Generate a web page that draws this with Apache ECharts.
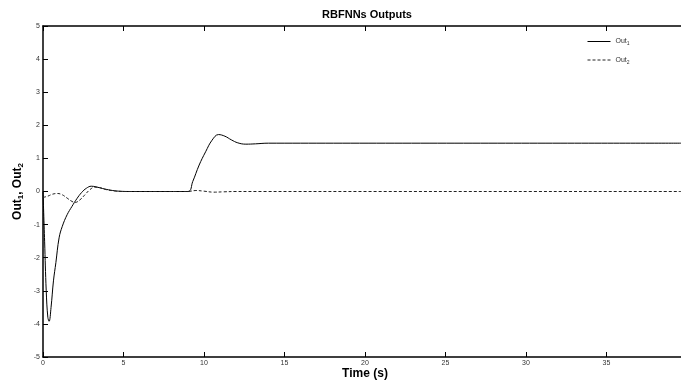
<!DOCTYPE html>
<html><head><meta charset="utf-8">
<script src="https://cdn.jsdelivr.net/npm/echarts@6/dist/echarts.min.js"></script>
<style>html,body{margin:0;padding:0;background:#fff}#c{width:681px;height:383px}</style>
</head><body><div id="c"></div>
<script>
const out1T = [0, 0.1, 0.2, 0.3, 0.38, 0.5, 0.65, 0.8, 1.0, 1.2, 1.5, 1.8, 2.1, 2.4, 2.7, 3.0, 3.3, 3.7, 4.2, 4.7, 5.5, 9.0, 9.3, 9.7, 10.1, 10.5, 10.9, 11.3, 11.7, 12.1, 12.6, 13.2, 14, 39.7];
const out1V = [0, -1.5, -3.0, -3.8, -3.92, -3.5, -2.7, -2.15, -1.4, -1.05, -0.7, -0.45, -0.22, -0.03, 0.1, 0.16, 0.14, 0.09, 0.04, 0.01, 0, 0, 0.3, 0.8, 1.2, 1.55, 1.72, 1.67, 1.56, 1.47, 1.43, 1.44, 1.46, 1.46];
const out2T = [0, 0.3, 0.6, 0.9, 1.2, 1.5, 1.8, 2.0, 2.3, 2.6, 2.9, 3.2, 3.5, 3.9, 4.4, 5, 9.0, 9.5, 10.0, 10.6, 11.2, 12, 39.7];
const out2V = [-0.18, -0.14, -0.08, -0.06, -0.1, -0.2, -0.3, -0.33, -0.25, -0.1, 0.05, 0.13, 0.12, 0.06, 0.02, 0, 0, 0.03, 0.01, -0.02, -0.01, 0, 0];
const xTicks = [0, 5, 10, 15, 20, 25, 30, 35];
const yTicks = [-5, -4, -3, -2, -1, 0, 1, 2, 3, 4, 5];
const titleText = 'RBFNNs Outputs';
const xName = 'Time (s)';

const chart = echarts.init(document.getElementById('c'));
const font = 'Liberation Sans, Arial, sans-serif';
const zip = (t, v) => t.map((x, i) => [x, v[i]]);
const rich = {
  a: {fontFamily: font, fontSize: 7, color: '#333'},
  s: {fontFamily: font, fontSize: 5, color: '#333', padding: [5, 0, 0, 0]}
};
chart.setOption({
  animation: false,
  title: {text: titleText, left: 362, top: 4, textAlign: 'center',
    textStyle: {fontFamily: font, fontSize: 11, fontWeight: 'bold', color: '#000'}},
  grid: {left: 43, top: 26, width: 644, height: 331, outerBoundsMode: 'none', containLabel: false},
  legend: {
    left: 582, top: 33, orient: 'vertical', itemGap: 10, itemWidth: 23, itemHeight: 8,
    data: ['Out1', 'Out2'],
    itemStyle: {opacity: 0},
    lineStyle: {width: 1},
    formatter: n => '{a|Out}{s|' + n.slice(3) + '}',
    textStyle: {rich: rich}
  },
  xAxis: [{
    type: 'value', min: 0, max: 40, interval: 5,
    name: xName, nameLocation: 'middle', nameGap: 11, nameMoveOverlap: false,
    nameTextStyle: {fontFamily: font, fontSize: 12, fontWeight: 'bold', color: '#000'},
    axisLine: {show: true, onZero: false, lineStyle: {color: '#000', width: 1.5}},
    axisTick: {show: true, inside: true, length: 5, lineStyle: {color: '#000'}},
    axisLabel: {fontFamily: font, fontSize: 7, color: '#333', margin: 3,
      formatter: v => xTicks.includes(v) ? String(v) : ''},
    splitLine: {show: false}
  }, {
    type: 'value', position: 'top', min: 0, max: 40, interval: 5,
    axisLine: {show: true, onZero: false, lineStyle: {color: '#000', width: 1.5}},
    axisTick: {show: true, inside: true, length: 5, lineStyle: {color: '#000'}},
    axisLabel: {show: false}, splitLine: {show: false}
  }],
  yAxis: {
    type: 'value', min: -5, max: 5, interval: 1,
    name: '{b|Out}{bs|1}{b|, Out}{bs|2}', nameLocation: 'middle', nameGap: 18, nameRotate: 90, nameMoveOverlap: false,
    nameTextStyle: {rich: {
      b: {fontFamily: font, fontSize: 12, fontWeight: 'bold', color: '#000'},
      bs: {fontFamily: font, fontSize: 8, fontWeight: 'bold', color: '#000', padding: [7, 0, 0, 0]}
    }},
    axisLine: {show: true, onZero: false, lineStyle: {color: '#000', width: 1.5}},
    axisTick: {show: true, inside: true, length: 5, lineStyle: {color: '#000'}},
    axisLabel: {fontFamily: font, fontSize: 7, color: '#333', margin: 3,
      formatter: v => yTicks.includes(v) ? String(v) : ''},
    splitLine: {show: false}
  },
  series: [{
    name: 'Out1', type: 'line', data: zip(out1T, out1V), symbol: 'none', smooth: 0.4,
    lineStyle: {color: '#000', width: 1}, itemStyle: {color: '#000'}
  }, {
    name: 'Out2', type: 'line', data: zip(out2T, out2V), symbol: 'none', smooth: 0.4,
    lineStyle: {color: '#222', width: 1, type: [3, 2]}, itemStyle: {color: '#000'}
  }]
});
</script></body></html>
